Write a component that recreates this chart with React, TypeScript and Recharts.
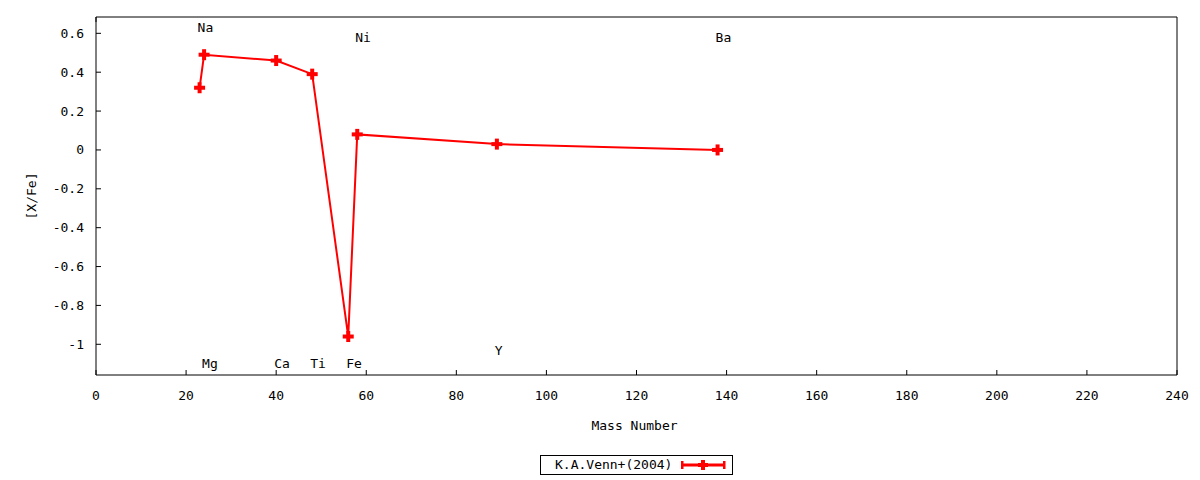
import { ComposedChart, Line, XAxis, YAxis, ReferenceDot, Legend, Label } from 'recharts'

const FONT = '"DejaVu Sans Mono", monospace'
const RED = '#ff0000'

// mass numbers and [X/Fe] abundances
const masses = [23, 24, 40, 48, 56, 58, 89, 138]
const xfe = [0.32, 0.49, 0.46, 0.39, -0.96, 0.08, 0.03, 0.0]

// element labels and where they sit (in data units)
const elements = ['Na', 'Mg', 'Ca', 'Ti', 'Fe', 'Ni', 'Y', 'Ba']
const labelY = [0.63, -1.1, -1.1, -1.1, -1.1, 0.58, -1.03, 0.58]

const xTicks = [0, 20, 40, 60, 80, 100, 120, 140, 160, 180, 200, 220, 240]
const yTicks = [-1, -0.8, -0.6, -0.4, -0.2, 0, 0.2, 0.4, 0.6]

const data = masses.map((m, i) => ({ mass: m, xfe: xfe[i] }))

function Plus({ cx, cy }: { cx: number; cy: number }) {
  const s = 11
  const b = 4
  return (
    <g>
      <rect x={cx - s / 2} y={cy - b / 2} width={s} height={b} fill={RED} />
      <rect x={cx - b / 2} y={cy - s / 2} width={b} height={s} fill={RED} />
    </g>
  )
}

const BottomTick = ({ x, y, payload }: any) => (
  <g>
    <line x1={x} x2={x} y1={y} y2={y - 5} stroke="#000" />
    <text x={x} y={y + 20} textAnchor="middle" dominantBaseline="central"
      fontFamily={FONT} fontSize={13} fill="#000">{payload.value}</text>
  </g>
)

const TopTick = ({ x, y }: any) => (
  <line x1={x} x2={x} y1={y} y2={y + 5} stroke="#000" />
)

const LeftTick = ({ x, y, payload }: any) => (
  <g>
    <line x1={x} x2={x + 5} y1={y} y2={y} stroke="#000" />
    <text x={x - 12} y={y} textAnchor="end" dominantBaseline="central"
      fontFamily={FONT} fontSize={13} fill="#000">{payload.value}</text>
  </g>
)

const RightTick = ({ x, y }: any) => (
  <line x1={x} x2={x - 5} y1={y} y2={y} stroke="#000" />
)

const renderLegend = (props: any) => {
  const entry = (props.payload || [])[0]
  return (
    <div style={{
      boxSizing: 'border-box', width: 193, height: 20, border: '1px solid #000',
      display: 'flex', alignItems: 'center', fontFamily: FONT, fontSize: 13,
      lineHeight: '18px', background: '#fff',
    }}>
      <span style={{ marginLeft: 14 }}>{entry ? entry.value : ''}</span>
      <svg width={46} height={14} style={{ marginLeft: 9 }}>
        <line x1={1} x2={44} y1={7} y2={7} stroke={RED} strokeWidth={3} />
        <rect x={0} y={3} width={2.5} height={8} fill={RED} />
        <rect x={42} y={3} width={2.5} height={8} fill={RED} />
        <rect x={20} y={2} width={4} height={10} fill={RED} />
        <rect x={17} y={5} width={10} height={4} fill={RED} />
      </svg>
    </div>
  )
}

export default function App() {
  return (
    <div style={{ position: 'absolute', left: 0, top: 0 }}>
      <ComposedChart width={1200} height={480} data={data}
        margin={{ top: 16, right: 22, bottom: 104, left: 95 }}>
        <XAxis dataKey="mass" type="number" domain={[0, 240]} ticks={xTicks}
          height={1} tickSize={0} tickMargin={0} tickLine={false}
          axisLine={{ stroke: '#000' }} tick={BottomTick} interval={0}>
          <Label content={({ viewBox }: any) => (
            <text x={viewBox.x + viewBox.width / 2 - 2} y={viewBox.y + 50}
              textAnchor="middle" dominantBaseline="central"
              fontFamily={FONT} fontSize={13} fill="#000">Mass Number</text>
          )} />
        </XAxis>
        <XAxis xAxisId="top" orientation="top" type="number" domain={[0, 240]}
          ticks={xTicks} height={1} tickSize={0} tickMargin={0} tickLine={false}
          axisLine={{ stroke: '#000' }} tick={TopTick} interval={0} />
        <YAxis type="number" domain={[-1.158, 0.684]} ticks={yTicks}
          width={1} tickSize={0} tickMargin={0} tickLine={false}
          axisLine={{ stroke: '#000' }} tick={LeftTick} interval={0}>
          <Label content={() => (
            <text x={31} y={196} textAnchor="middle" dominantBaseline="central"
              transform="rotate(-90, 31, 196)"
              fontFamily={FONT} fontSize={13} fill="#000">[X/Fe]</text>
          )} />
        </YAxis>
        <YAxis yAxisId="right" orientation="right" type="number"
          domain={[-1.158, 0.684]} ticks={yTicks} width={1} tickSize={0}
          tickMargin={0} tickLine={false} axisLine={{ stroke: '#000' }}
          tick={RightTick} interval={0} />
        {elements.map((el, i) => (
          <ReferenceDot key={el} x={masses[i]} y={labelY[i]} r={0}
            ifOverflow="visible"
            shape={(p: any) => (
              <text x={p.cx - 2} y={p.cy} textAnchor="start"
                dominantBaseline="central" fontFamily={FONT} fontSize={13}
                fill="#000">{el}</text>
            )} />
        ))}
        <Line dataKey="xfe" name="K.A.Venn+(2004)" stroke={RED} strokeWidth={2}
          isAnimationActive={false}
          dot={(p: any) => <Plus key={p.index} cx={p.cx} cy={p.cy} />}
          activeDot={false} />
        <Legend layout="horizontal" verticalAlign="middle" align="center"
          wrapperStyle={{ left: 540, top: 455, width: 193, height: 20 }}
          content={renderLegend} />
      </ComposedChart>
    </div>
  )
}
